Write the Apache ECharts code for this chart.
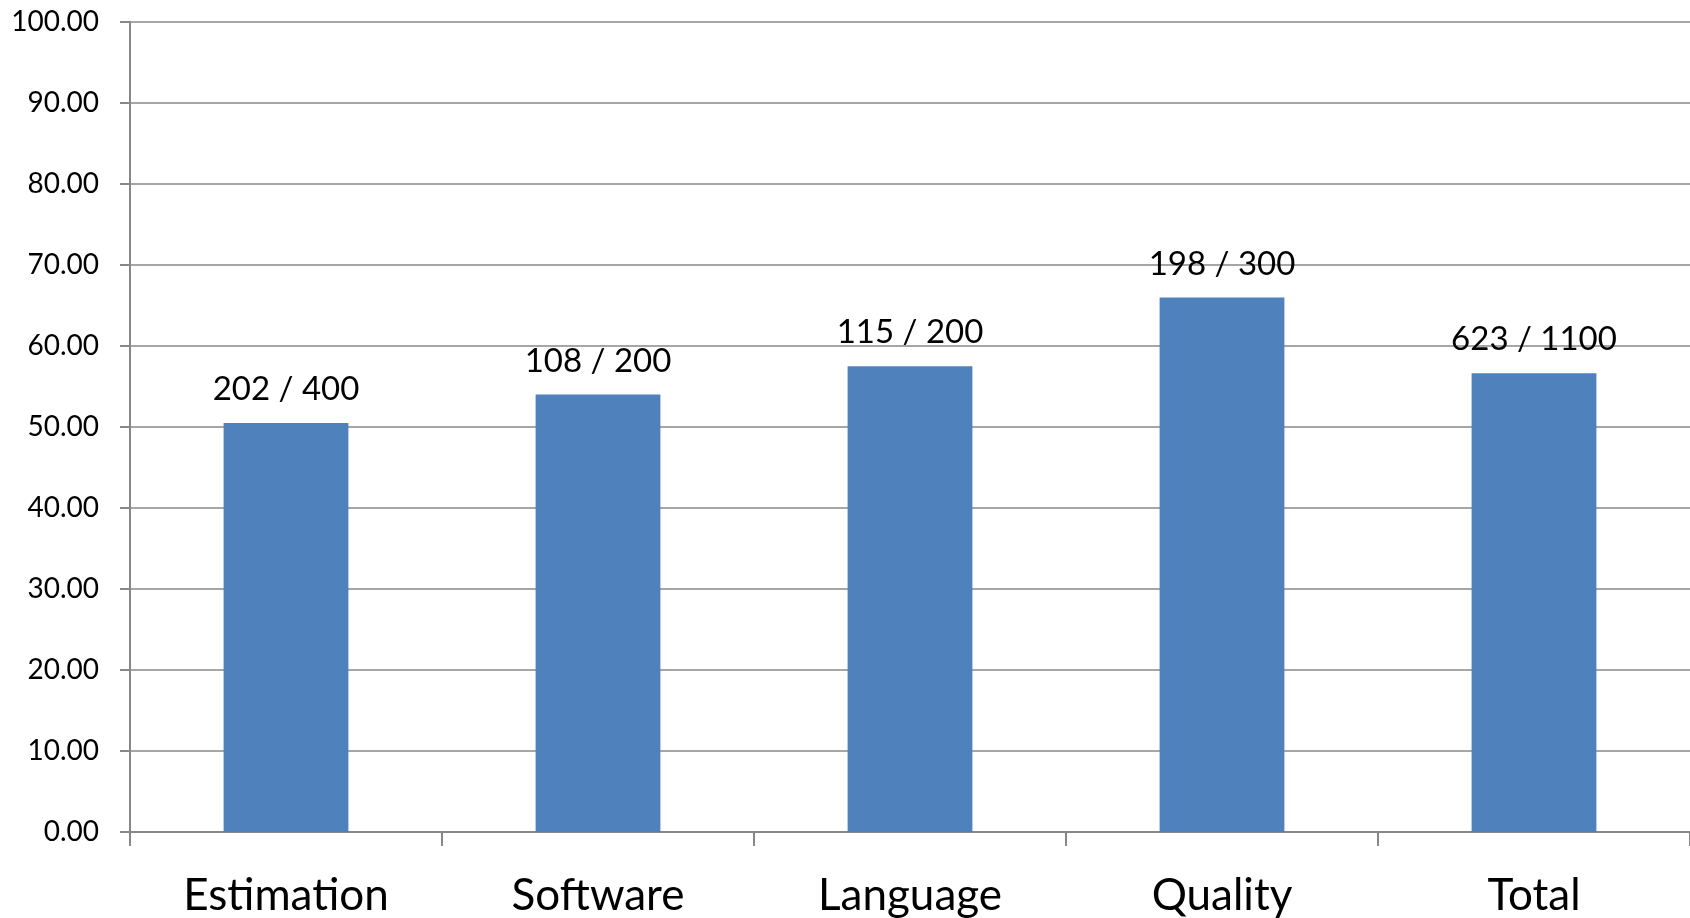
<!DOCTYPE html>
<html>
<head>
<meta charset="utf-8">
<script src="https://cdn.jsdelivr.net/npm/echarts@6/dist/echarts.min.js"></script>
<style>html,body{margin:0;padding:0;background:#fff;}#c{width:1690px;height:918px;}</style>
</head>
<body>
<div id="c"></div>
<script>
const categories = ['Estimation', 'Software', 'Language', 'Quality', 'Total'];
const values = [50.5, 54.0, 57.5, 66.0, 56.64];
const barLabels = ['202 / 400', '108 / 200', '115 / 200', '198 / 300', '623 / 1100'];
const yTicks = { min: 0, max: 100, interval: 10 };

const chart = echarts.init(document.getElementById('c'));
const font = 'Lato, "Noto Sans", sans-serif';
chart.setOption({
  animation: false,
  grid: { left: 130, right: -3, top: 22, bottom: 86, containLabel: false },
  xAxis: {
    type: 'category',
    data: categories,
    axisLine: { lineStyle: { color: '#888', width: 2 } },
    axisTick: { show: true, length: 14, lineStyle: { color: '#888', width: 2 } },
    axisLabel: { color: '#000', fontSize: 44, fontFamily: font, margin: 42 }
  },
  yAxis: {
    type: 'value',
    min: yTicks.min, max: yTicks.max, interval: yTicks.interval,
    axisLine: { show: true, lineStyle: { color: '#888', width: 2 } },
    axisTick: { show: true, length: 10, lineStyle: { color: '#888', width: 2 } },
    splitLine: { lineStyle: { color: '#888', width: 1.5 } },
    axisLabel: { color: '#000', fontSize: 28, fontFamily: font, margin: 31,
      formatter: v => v.toFixed(2) }
  },
  series: [{
    type: 'bar',
    data: values,
    barWidth: '40%',
    itemStyle: { color: '#4F81BD' },
    label: {
      show: true, position: 'top', distance: 17,
      color: '#000', fontSize: 33, fontFamily: font,
      formatter: p => barLabels[p.dataIndex]
    }
  }]
});
</script>
</body>
</html>
